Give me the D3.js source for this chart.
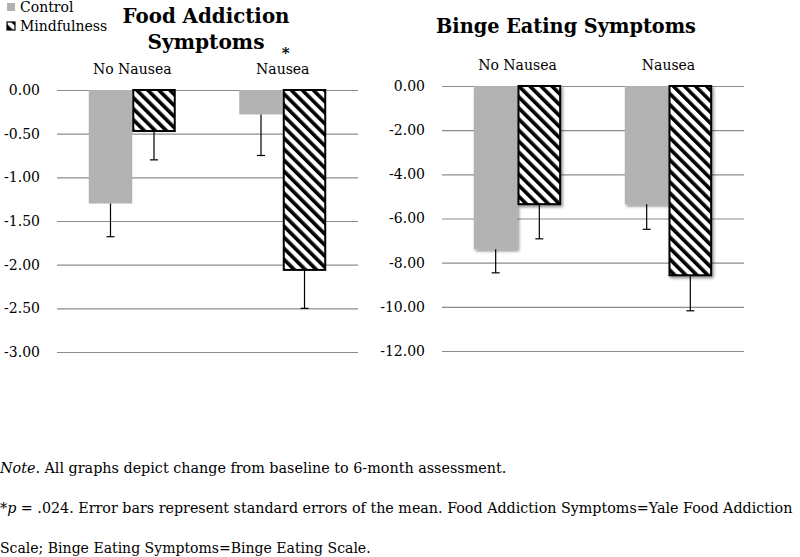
<!DOCTYPE html>
<html>
<head>
<meta charset="utf-8">
<script src="https://cdn.jsdelivr.net/npm/d3@7"></script>
<style>
  body { margin: 0; background: #fff; }
  text { font-family: "DejaVu Serif", serif; fill: #000; }
</style>
</head>
<body>
<svg width="800" height="557"></svg>
<script>
// data
const groups = ["No Nausea", "Nausea"];
const conditions = ["Control", "Mindfulness"];

const faControl = [-1.30, -0.28];
const faControlSE = [0.38, 0.47];
const faMindful = [-0.47, -2.06];
const faMindfulSE = [0.33, 0.44];
const faTicks = [0, -0.5, -1, -1.5, -2, -2.5, -3];

const beControl = [-7.39, -5.36];
const beControlSE = [1.07, 1.13];
const beMindful = [-5.35, -8.57];
const beMindfulSE = [1.57, 1.61];
const beTicks = [0, -2, -4, -6, -8, -10, -12];

const svg = d3.select("svg");
const defs = svg.append("defs");

const pat = defs.append("pattern")
    .attr("id", "hatch")
    .attr("patternUnits", "userSpaceOnUse")
    .attr("width", 7.8).attr("height", 7.8)
    .attr("patternTransform", "rotate(-45)");
pat.append("rect").attr("width", 7.8).attr("height", 7.8).attr("fill", "#fff");
pat.append("rect").attr("width", 3.6).attr("height", 7.8).attr("fill", "#000");

const shadow = defs.append("filter").attr("id", "shadow")
    .attr("x", "-20%").attr("y", "-10%").attr("width", "150%").attr("height", "130%");
shadow.append("feDropShadow")
    .attr("dx", 1.5).attr("dy", 2).attr("stdDeviation", 1.5)
    .attr("flood-color", "#000").attr("flood-opacity", 0.45);

// hyphen instead of unicode minus, like the original
const fmt = d => d3.format(".2f")(d).replace("\u2212", "-");

function panel(o) {
    const g = svg.append("g");
    const x0 = d3.scaleBand().domain(groups).range([o.left, o.right]);
    const x1 = d3.scaleBand().domain(conditions).range([0, x0.bandwidth()])
        .paddingInner(0).paddingOuter(0.73);
    const y = d3.scaleLinear().domain([o.ticks[o.ticks.length - 1], 0]).range([o.bottom, o.top]);

    // gridlines + tick labels
    const axis = g.append("g")
        .attr("transform", "translate(" + o.left + ",0)")
        .call(d3.axisLeft(y).tickValues(o.ticks)
            .tickSize(-(o.right - o.left)).tickFormat(fmt).tickPadding(17));
    axis.select(".domain").remove();
    axis.selectAll(".tick line").attr("stroke", "#8c8c8c").attr("stroke-width", 1.2);
    axis.selectAll(".tick text")
        .style("font-family", "DejaVu Serif").style("font-size", "14px").attr("fill", "#000");

    const rows = groups.map((k, i) => [
        { grp: k, cond: "Control", v: o.control[i], se: o.controlSE[i] },
        { grp: k, cond: "Mindfulness", v: o.mindful[i], se: o.mindfulSE[i] }
    ]).flat();

    const bars = g.append("g").attr("filter", o.shadow ? "url(#shadow)" : null);
    bars.selectAll("rect")
        .data(rows)
        .enter().append("rect")
        .attr("x", d => x0(d.grp) + x1(d.cond) + (d.cond === "Mindfulness" ? 1 : 0))
        .attr("y", y(0))
        .attr("width", d => x1.bandwidth() - (d.cond === "Mindfulness" ? 2 : 0))
        .attr("height", d => y(d.v) - y(0))
        .attr("fill", d => d.cond === "Control" ? "#b2b2b2" : "url(#hatch)")
        .attr("stroke", d => d.cond === "Control" ? "none" : "#000")
        .attr("stroke-width", 2);

    // error bars (downward only)
    const err = g.append("g").attr("stroke", "#000").attr("stroke-width", 1.2);
    rows.forEach(d => {
        const cx = x0(d.grp) + x1(d.cond) + x1.bandwidth() / 2;
        err.append("line").attr("x1", cx).attr("x2", cx)
            .attr("y1", y(d.v)).attr("y2", y(d.v - d.se));
        err.append("line").attr("x1", cx - 4).attr("x2", cx + 4)
            .attr("y1", y(d.v - d.se)).attr("y2", y(d.v - d.se));
    });

    // category labels on top
    g.selectAll(".cat")
        .data(groups)
        .enter().append("text")
        .attr("class", "cat")
        .attr("x", d => x0(d) + x0.bandwidth() / 2)
        .attr("y", o.catY)
        .attr("text-anchor", "middle")
        .style("font-size", "14px")
        .text(d => d);

    o.title.forEach((t, i) => {
        g.append("text")
            .attr("x", o.titleX)
            .attr("y", o.titleY[i])
            .attr("text-anchor", "middle")
            .attr("textLength", o.titleW[i])
            .attr("lengthAdjust", "spacingAndGlyphs")
            .style("font-size", "21px").style("font-weight", "bold")
            .text(t);
    });
    return { x0, x1, y };
}

const fa = panel({
    left: 57, right: 358, top: 90, bottom: 352,
    ticks: faTicks, control: faControl, controlSE: faControlSE,
    mindful: faMindful, mindfulSE: faMindfulSE,
    catY: 74, title: ["Food Addiction", "Symptoms"], titleX: 206,
    titleY: [23, 49], titleW: [167, 117], shadow: false
});

// significance marker
svg.append("text")
    .attr("x", fa.x0("Nausea") + fa.x0.bandwidth() / 2 + 3)
    .attr("y", 58)
    .attr("text-anchor", "middle")
    .style("font-size", "15px").style("font-weight", "bold")
    .text("*");

panel({
    left: 442, right: 744, top: 86, bottom: 351,
    ticks: beTicks, control: beControl, controlSE: beControlSE,
    mindful: beMindful, mindfulSE: beMindfulSE,
    catY: 70, title: ["Binge Eating Symptoms"], titleX: 566,
    titleY: [33], titleW: [260], shadow: true
});

// legend
const leg = svg.append("g");
conditions.forEach((c, i) => {
    leg.append("rect")
        .attr("x", 7).attr("y", 3 + i * 19)
        .attr("width", 8).attr("height", 8)
        .attr("fill", i === 0 ? "#b2b2b2" : "url(#hatch)")
        .attr("stroke", i === 0 ? "none" : "#000")
        .attr("stroke-width", 1.2);
    leg.append("text")
        .attr("x", 20).attr("y", 12 + i * 19)
        .style("font-size", "14px")
        .text(c);
});

// footnotes, squeezed horizontally to the widths of the original lines
const notes = [
    { y: 473, w: 507, parts: [["Note", true], [". All graphs depict change from baseline to 6-month assessment.", false]] },
    { y: 513, w: 793, parts: [["*", false], ["p", true], [" = .024. Error bars represent standard errors of the mean. Food Addiction Symptoms=Yale Food Addiction", false]] },
    { y: 553, w: 371, parts: [["Scale; Binge Eating Symptoms=Binge Eating Scale.", false]] }
];
notes.forEach(n => {
    const t = svg.append("text")
        .attr("x", 0).attr("y", 0)
        .style("font-size", "15px");
    n.parts.forEach(p => {
        t.append("tspan").style("font-style", p[1] ? "italic" : "normal").text(p[0]);
    });
    const natural = t.node().getComputedTextLength();
    t.attr("transform", "translate(0," + n.y + ") scale(" + (n.w / natural) + ",1)");
});
</script>
</body>
</html>
